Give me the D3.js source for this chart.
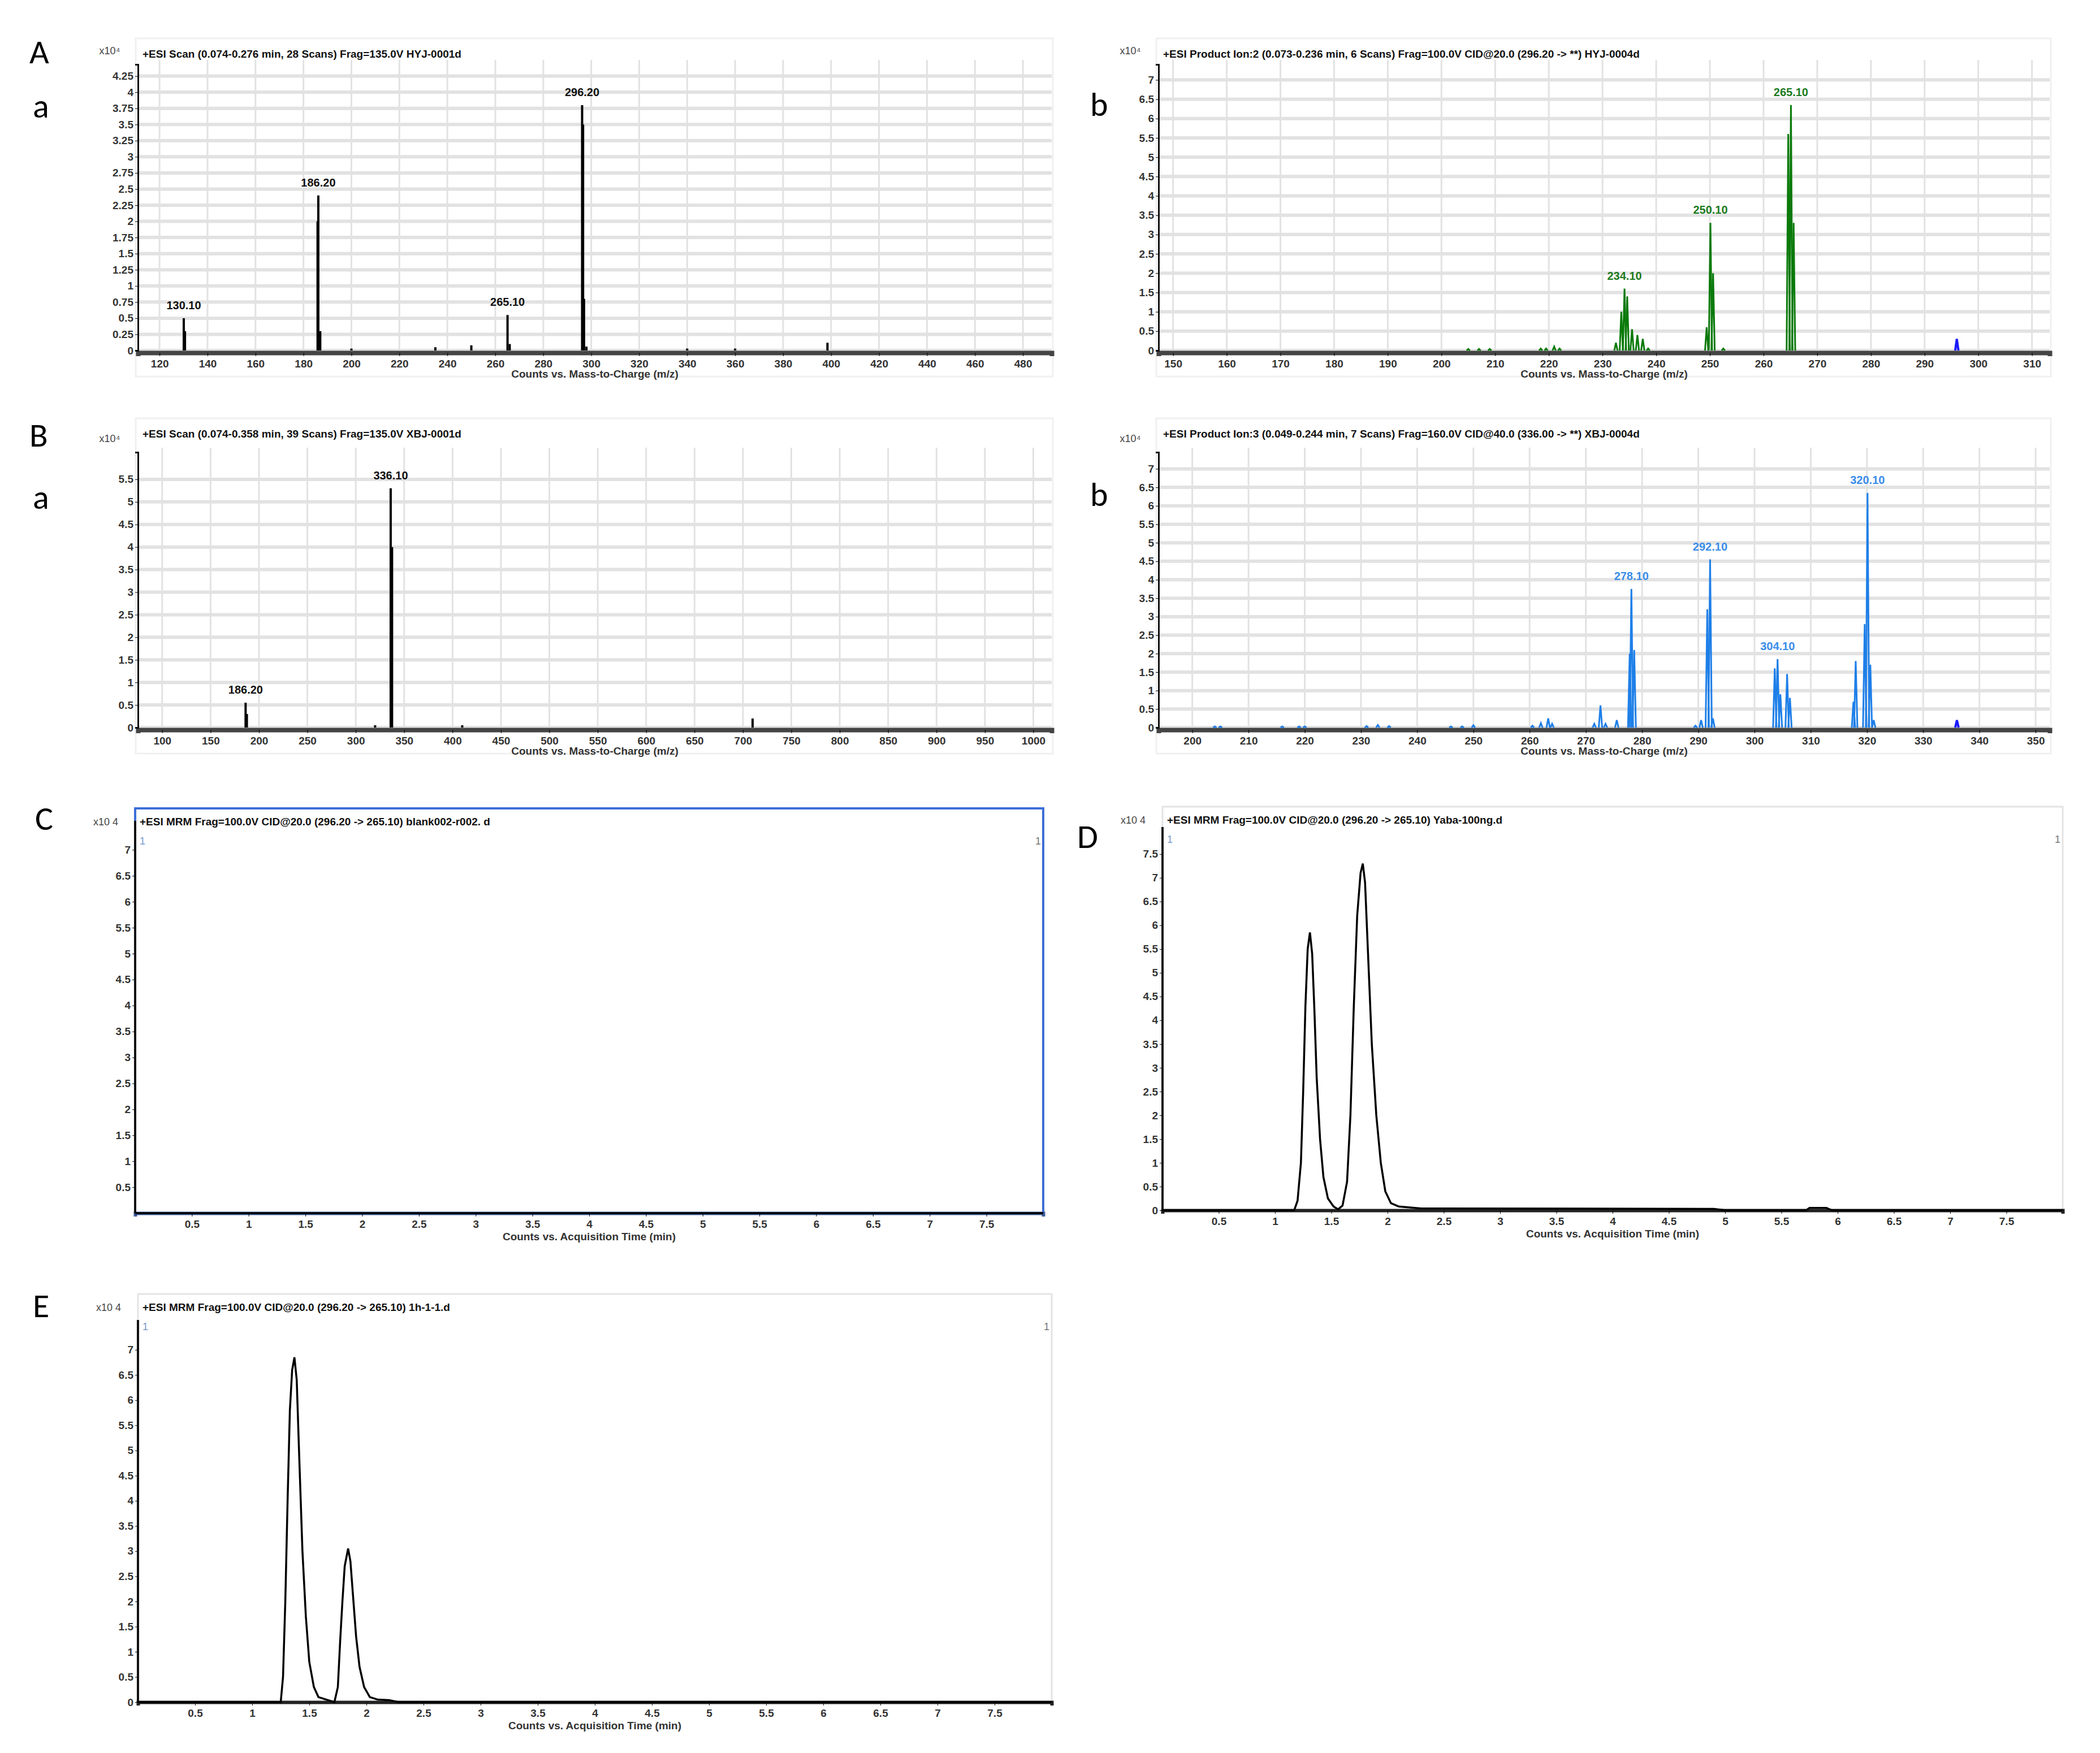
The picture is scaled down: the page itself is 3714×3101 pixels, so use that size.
<!DOCTYPE html>
<html>
<head>
<meta charset="utf-8">
<script src="https://cdn.jsdelivr.net/npm/d3@7"></script>
<style>
  body { margin: 0; background: #fff; }
  text { font-family: "Liberation Sans", Arial, sans-serif; }
</style>
</head>
<body>
<div id="chart"></div>
<script>
let width = 3714;
let height = 3101;

// ---- data (m/z, counts x10^4) ----
let aaSticks = [[130.1, 0.5], [130.6, 0.3], [185.9, 2.0], [186.2, 2.4], [187.0, 0.3], [200, 0.03], [235, 0.05], [250, 0.08],
                [265.1, 0.55], [266, 0.1], [296.2, 3.8], [296.6, 3.5], [297.0, 0.8], [298, 0.06], [340, 0.03], [360, 0.03], [398.5, 0.12]];
let aaLabels = [[130.1, 0.5, "130.10"], [186.2, 2.4, "186.20"], [265.1, 0.55, "265.10"], [296.2, 3.8, "296.20"]];
let aaTicks = [120, 140, 160, 180, 200, 220, 240, 260, 280, 300, 320, 340, 360, 380, 400, 420, 440, 460, 480];
let aaYTicks = [0, 0.25, 0.5, 0.75, 1, 1.25, 1.5, 1.75, 2, 2.25, 2.5, 2.75, 3, 3.25, 3.5, 3.75, 4, 4.25];

let abPeaks = [[205, 0.04], [207, 0.04], [209, 0.04], [218.5, 0.05], [219.5, 0.05], [221, 0.1], [222, 0.05],
               [232.5, 0.2], [233.5, 1.0], [234.1, 1.6], [234.6, 1.4], [235.5, 0.55], [236.5, 0.4], [237.5, 0.3], [238.5, 0.05],
               [249.4, 0.6], [250.1, 3.3], [250.6, 2.0], [252.5, 0.05],
               [264.6, 5.6], [265.1, 6.35], [265.6, 3.3]];
let abLabels = [[234.1, 1.6, "234.10"], [250.1, 3.3, "250.10"], [265.1, 6.35, "265.10"]];
let abExtra = [[296, 0.3]];
let abTicks = [150, 160, 170, 180, 190, 200, 210, 220, 230, 240, 250, 260, 270, 280, 290, 300, 310];
let abYTicks = [0, 0.5, 1, 1.5, 2, 2.5, 3, 3.5, 4, 4.5, 5, 5.5, 6, 6.5, 7];

let baSticks = [[186.2, 0.55], [187.5, 0.3], [320, 0.05], [336.1, 5.3], [337.5, 4.0], [410, 0.05], [710, 0.2]];
let baLabels = [[186.2, 0.55, "186.20"], [336.1, 5.3, "336.10"]];
let baTicks = [100, 150, 200, 250, 300, 350, 400, 450, 500, 550, 600, 650, 700, 750, 800, 850, 900, 950, 1000];
let baYTicks = [0, 0.5, 1, 1.5, 2, 2.5, 3, 3.5, 4, 4.5, 5, 5.5];

let bbPeaks = [[204, 0.03], [205, 0.03], [216, 0.03], [219, 0.03], [220, 0.03], [231, 0.04], [233, 0.07], [235, 0.04],
               [246, 0.03], [248, 0.03], [250, 0.06], [260.5, 0.05], [262, 0.12], [263.3, 0.25], [264, 0.1],
               [271.5, 0.1], [272.6, 0.6], [273.5, 0.1], [275.5, 0.2], [277.8, 2.0], [278.1, 3.75], [278.6, 2.1],
               [289.5, 0.05], [290.5, 0.2], [291.6, 3.2], [292.1, 4.55], [292.6, 0.25],
               [303.6, 1.6], [304.1, 1.85], [304.6, 0.9], [305.8, 1.45], [306.3, 0.8],
               [317.6, 0.7], [318, 1.8], [319.6, 2.8], [320.1, 6.35], [320.6, 1.7], [321.2, 0.2]];
let bbLabels = [[278.1, 3.75, "278.10"], [292.1, 4.55, "292.10"], [304.1, 1.85, "304.10"], [320.1, 6.35, "320.10"]];
let bbExtra = [[336, 0.2]];
let bbTicks = [200, 210, 220, 230, 240, 250, 260, 270, 280, 290, 300, 310, 320, 330, 340, 350];
let bbYTicks = [0, 0.5, 1, 1.5, 2, 2.5, 3, 3.5, 4, 4.5, 5, 5.5, 6, 6.5, 7];

// ---- chromatograms (min, counts x10^4) ----
let timeTicks = [0.5, 1, 1.5, 2, 2.5, 3, 3.5, 4, 4.5, 5, 5.5, 6, 6.5, 7, 7.5];
let cYTicks = [0.5, 1, 1.5, 2, 2.5, 3, 3.5, 4, 4.5, 5, 5.5, 6, 6.5, 7];
let dYTicks = [0, 0.5, 1, 1.5, 2, 2.5, 3, 3.5, 4, 4.5, 5, 5.5, 6, 6.5, 7, 7.5];
let eYTicks = [0, 0.5, 1, 1.5, 2, 2.5, 3, 3.5, 4, 4.5, 5, 5.5, 6, 6.5, 7];
let cTrace = [[0, 0], [8, 0]];
let dTrace = [[0, 0], [1.17, 0], [1.2, 0.2], [1.23, 1.0], [1.25, 2.5], [1.27, 4.3], [1.29, 5.5], [1.31, 5.85], [1.33, 5.4],
              [1.35, 4.2], [1.37, 2.8], [1.4, 1.5], [1.43, 0.7], [1.47, 0.25], [1.52, 0.08], [1.56, 0.02], [1.6, 0.1],
              [1.64, 0.6], [1.67, 2.0], [1.7, 4.3], [1.73, 6.2], [1.76, 7.1], [1.78, 7.3], [1.8, 6.9], [1.83, 5.2],
              [1.86, 3.5], [1.9, 2.0], [1.94, 1.0], [1.98, 0.4], [2.03, 0.15], [2.1, 0.08], [2.3, 0.04], [4.9, 0.03],
              [5.0, 0], [5.72, 0], [5.75, 0.05], [5.9, 0.05], [5.95, 0], [8, 0]];
let eTrace = [[0, 0], [1.25, 0], [1.27, 0.5], [1.29, 2.0], [1.31, 4.0], [1.33, 5.8], [1.35, 6.6], [1.37, 6.85], [1.39, 6.4],
              [1.41, 5.0], [1.44, 3.0], [1.47, 1.7], [1.5, 0.8], [1.54, 0.3], [1.58, 0.1], [1.65, 0.05], [1.72, 0],
              [1.75, 0.3], [1.77, 1.2], [1.79, 2.0], [1.81, 2.7], [1.84, 3.05], [1.86, 2.8], [1.88, 2.2], [1.91, 1.3],
              [1.94, 0.7], [1.98, 0.3], [2.03, 0.1], [2.1, 0.05], [2.2, 0.04], [2.28, 0], [8, 0]];

let svg = d3.select("#chart").append("svg")
    .attr("width", width).attr("height", height);

// panel letters
let letters = [["A", 52, 112], ["a", 58, 208], ["b", 1928, 205], ["B", 52, 790], ["a", 58, 900], ["b", 1928, 895],
               ["C", 62, 1468], ["D", 1905, 1500], ["E", 58, 2330]];
svg.selectAll("text.letter").data(letters).enter().append("text")
    .attr("class", "letter")
    .attr("x", d => d[1]).attr("y", d => d[2])
    .style("font-size", "60px").style("font-family", "Carlito, Calibri, 'Liberation Sans'")
    .text(d => d[0]);

function fmt(v) { return String(v); }

function spectrum(p) {
    let g = svg.append("g");
    let x = d3.scaleLinear().domain(p.xDom).range([p.x0, p.x1]);
    let y = d3.scaleLinear().domain(p.yDom).range([p.yBase, p.yTop]);

    // outer faint frame
    g.append("rect").attr("x", p.x0 - 4).attr("y", p.title - 34)
        .attr("width", p.x1 - p.x0 + 6).attr("height", p.yBase - p.title + 80)
        .attr("fill", "none").attr("stroke", "#f0f0f0").attr("stroke-width", 3);

    // grid
    g.selectAll("line.hg").data(p.yTicks).enter().append("line")
        .attr("x1", p.x0).attr("x2", p.x1).attr("y1", d => y(d)).attr("y2", d => y(d))
        .attr("stroke", "#e2e2e2").attr("stroke-width", 6);
    g.selectAll("line.vg").data(p.xTicks).enter().append("line")
        .attr("x1", d => x(d)).attr("x2", d => x(d)).attr("y1", p.yTop - 8).attr("y2", p.yBase)
        .attr("stroke", "#e2e2e2").attr("stroke-width", 3);

    // axes
    let xa = g.append("g").attr("transform", `translate(0,${p.yBase + 4})`)
        .call(d3.axisBottom(x).tickValues(p.xTicks).tickSize(6).tickFormat(fmt));
    xa.select(".domain").attr("stroke", "#444").attr("stroke-width", 8);
    xa.selectAll("text").style("font-size", "19px").style("font-weight", "bold").attr("fill", "#333").attr("dy", "0.9em");
    let ya = g.append("g").attr("transform", `translate(${p.x0},0)`)
        .call(d3.axisLeft(y).tickValues(p.yTicks).tickSize(5).tickFormat(fmt));
    ya.select(".domain").attr("stroke", "#111").attr("stroke-width", 3);
    ya.selectAll("text").style("font-size", "19px").style("font-weight", "bold").attr("fill", "#333");

    g.append("text").attr("x", p.x0 - 50).attr("y", p.yTop - 18).attr("text-anchor", "middle")
        .style("font-size", "18px").attr("fill", "#444").text("x10\u2074");
    g.append("text").attr("x", p.x0 + 8).attr("y", p.title)
        .style("font-size", "19px").style("font-weight", "bold").attr("fill", "#111").text(p.titleText);
    g.append("text").attr("x", (p.x0 + p.x1) / 2).attr("y", p.yBase + 48).attr("text-anchor", "middle")
        .style("font-size", "19px").style("font-weight", "bold").attr("fill", "#333")
        .text("Counts vs. Mass-to-Charge (m/z)");

    // peaks
    if (p.sticks) {
        g.selectAll("line.stick").data(p.sticks).enter().append("line")
            .attr("x1", d => x(d[0])).attr("x2", d => x(d[0]))
            .attr("y1", p.yBase).attr("y2", d => y(d[1]))
            .attr("stroke", p.color).attr("stroke-width", 4);
    }
    if (p.peaks) {
        let line = d3.line().x(d => x(d[0])).y(d => y(d[1]));
        g.selectAll("path.pk").data(p.peaks).enter().append("path")
            .attr("d", d => line([[d[0] - 0.3, 0], [d[0], d[1]], [d[0] + 0.3, 0]]))
            .attr("fill", "none").attr("stroke", p.color).attr("stroke-width", 3);
        g.selectAll("path.ex").data(p.extra).enter().append("path")
            .attr("d", d => line([[d[0] - 0.3, 0], [d[0], d[1]], [d[0] + 0.3, 0]]))
            .attr("fill", "none").attr("stroke", "#1a1aff").attr("stroke-width", 4);
    }
    g.selectAll("text.lab").data(p.labels).enter().append("text")
        .attr("x", d => x(d[0])).attr("y", d => y(d[1]) - 16).attr("text-anchor", "middle")
        .style("font-size", "20px").style("font-weight", "bold").attr("fill", p.labelColor)
        .text(d => d[2]);
}

spectrum({ x0: 244, x1: 1860, yTop: 114, yBase: 620, title: 102, xDom: [111, 492], yDom: [0, 4.43],
    xTicks: aaTicks, yTicks: aaYTicks, sticks: aaSticks, labels: aaLabels, color: "#000", labelColor: "#111",
    titleText: "+ESI Scan (0.074-0.276 min, 28 Scans) Frag=135.0V HYJ-0001d" });
spectrum({ x0: 2049, x1: 3625, yTop: 114, yBase: 620, title: 102, xDom: [147.3, 313.3], yDom: [0, 7.4],
    xTicks: abTicks, yTicks: abYTicks, peaks: abPeaks, extra: abExtra, labels: abLabels, color: "#0a7a0a", labelColor: "#1d7a1d",
    titleText: "+ESI Product Ion:2 (0.073-0.236 min, 6 Scans) Frag=100.0V CID@20.0 (296.20 -> **) HYJ-0004d" });
spectrum({ x0: 244, x1: 1860, yTop: 800, yBase: 1287, title: 774, xDom: [75, 1019], yDom: [0, 6.1],
    xTicks: baTicks, yTicks: baYTicks, sticks: baSticks, labels: baLabels, color: "#000", labelColor: "#111",
    titleText: "+ESI Scan (0.074-0.358 min, 39 Scans) Frag=135.0V XBJ-0001d" });
spectrum({ x0: 2049, x1: 3625, yTop: 800, yBase: 1287, title: 774, xDom: [194, 352.5], yDom: [0, 7.45],
    xTicks: bbTicks, yTicks: bbYTicks, peaks: bbPeaks, extra: bbExtra, labels: bbLabels, color: "#1e7fe8", labelColor: "#3a8de8",
    titleText: "+ESI Product Ion:3 (0.049-0.244 min, 7 Scans) Frag=160.0V CID@40.0 (336.00 -> **) XBJ-0004d" });

function chrom(p) {
    let g = svg.append("g");
    let x = d3.scaleLinear().domain([0, 8]).range([p.x0, p.x1]);
    let y = d3.scaleLinear().domain(p.yDom).range([p.yBase, p.yTop]);

    g.append("rect").attr("x", p.x0).attr("y", p.title - 20)
        .attr("width", p.x1 - p.x0).attr("height", p.yBase - p.title + 20)
        .attr("fill", "none").attr("stroke", p.frame).attr("stroke-width", p.frameW);

    let xa = g.append("g").attr("transform", `translate(0,${p.yBase})`)
        .call(d3.axisBottom(x).tickValues(timeTicks).tickSize(6).tickFormat(fmt));
    xa.select(".domain").attr("stroke", p.baseColor).attr("stroke-width", 6);
    xa.selectAll("text").style("font-size", "19px").style("font-weight", "bold").attr("fill", "#333").attr("dy", "0.9em");
    let ya = g.append("g").attr("transform", `translate(${p.x0},0)`)
        .call(d3.axisLeft(y).tickValues(p.yTicks).tickSize(5).tickFormat(fmt));
    ya.select(".domain").remove();
    g.append("line").attr("x1", p.x0).attr("x2", p.x0).attr("y1", p.yTop - 10).attr("y2", p.yBase)
        .attr("stroke", "#111").attr("stroke-width", 4);
    ya.selectAll("text").style("font-size", "19px").style("font-weight", "bold").attr("fill", "#333");

    g.append("text").attr("x", p.x0 - 52).attr("y", p.title + 10).attr("text-anchor", "middle")
        .style("font-size", "18px").attr("fill", "#444").text("x10  4");
    g.append("text").attr("x", p.x0 + 8).attr("y", p.title + 10)
        .style("font-size", "19px").style("font-weight", "bold").attr("fill", "#111").text(p.titleText);
    g.append("text").attr("x", p.x0 + 8).attr("y", p.title + 44).style("font-size", "18px").attr("fill", "#7a9acc").text("1");
    g.append("text").attr("x", p.x1 - 14).attr("y", p.title + 44).style("font-size", "18px").attr("fill", "#777").text("1");
    g.append("text").attr("x", (p.x0 + p.x1) / 2).attr("y", p.yBase + 48).attr("text-anchor", "middle")
        .style("font-size", "19px").style("font-weight", "bold").attr("fill", "#333")
        .text("Counts vs. Acquisition Time (min)");

    let line = d3.line().x(d => x(d[0])).y(d => y(d[1]));
    g.append("path").datum(p.trace).attr("d", line)
        .attr("fill", "none").attr("stroke", "#000").attr("stroke-width", 3.5);
}

chrom({ x0: 239, x1: 1845, yTop: 1462, yBase: 2146, title: 1450, yDom: [0, 7.45], yTicks: cYTicks, trace: cTrace,
    frame: "#3d6fd6", frameW: 4, baseColor: "#3d5a9a",
    titleText: "+ESI  MRM  Frag=100.0V  CID@20.0  (296.20  ->  265.10)  blank002-r002. d" });
chrom({ x0: 2056, x1: 3648, yTop: 1473, yBase: 2141, title: 1447, yDom: [0, 7.95], yTicks: dYTicks, trace: dTrace,
    frame: "#e4e4e4", frameW: 3, baseColor: "#222",
    titleText: "+ESI  MRM  Frag=100.0V  CID@20.0  (296.20  ->  265.10)  Yaba-100ng.d" });
chrom({ x0: 244, x1: 1860, yTop: 2345, yBase: 3011, title: 2309, yDom: [0, 7.48], yTicks: eYTicks, trace: eTrace,
    frame: "#e4e4e4", frameW: 3, baseColor: "#222",
    titleText: "+ESI  MRM  Frag=100.0V  CID@20.0  (296.20  ->  265.10)  1h-1-1.d" });
</script>
</body>
</html>
